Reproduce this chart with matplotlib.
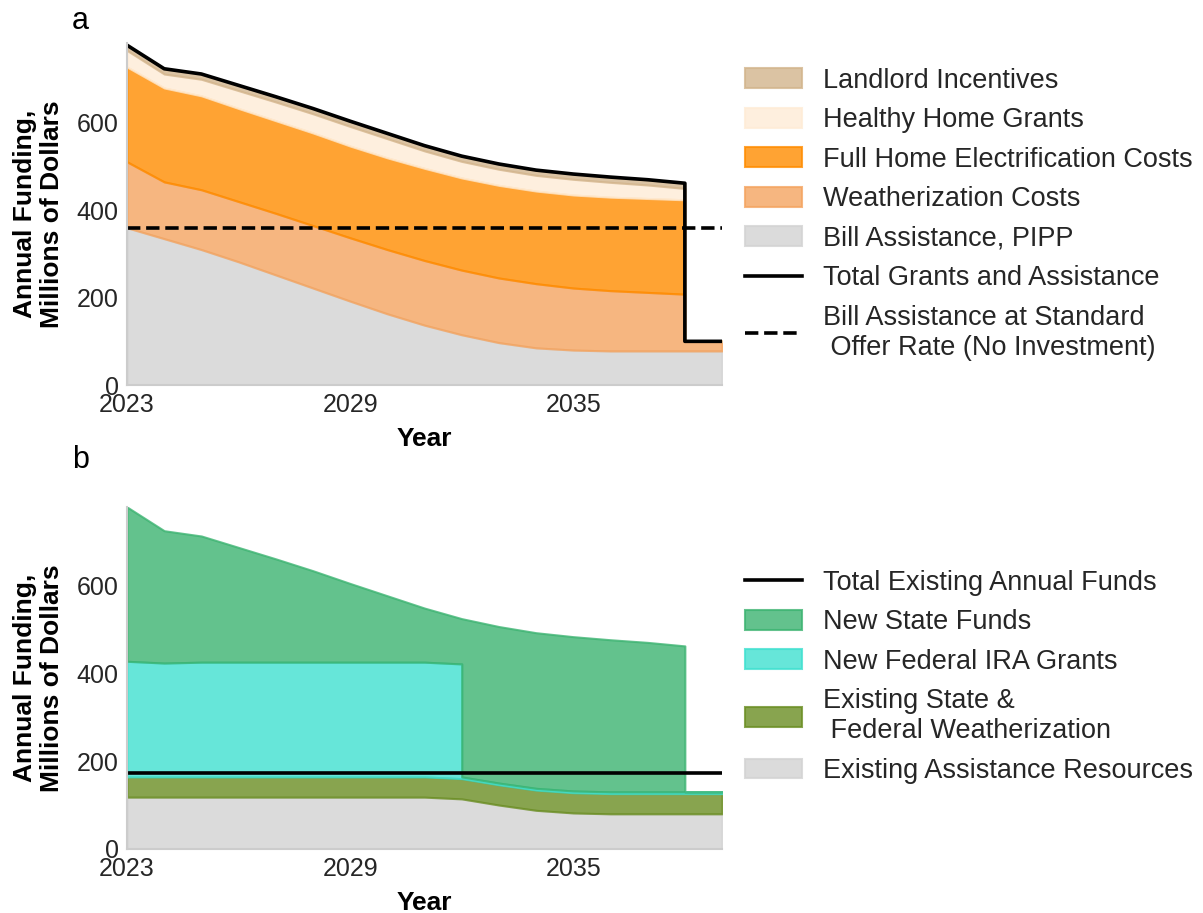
import numpy as np
import matplotlib.pyplot as plt
from matplotlib.patches import Patch
from matplotlib.lines import Line2D

plt.rcParams['font.family'] = ['Liberation Sans', 'DejaVu Sans']
plt.rcParams['text.color'] = '#262626'
plt.rcParams['xtick.color'] = '#262626'
plt.rcParams['ytick.color'] = '#262626'

# panel a: 2038 appears twice because the programme ends there (vertical drop)
years_a = [2023, 2024, 2025, 2026, 2027, 2028, 2029, 2030, 2031, 2032,
           2033, 2034, 2035, 2036, 2037, 2038, 2038, 2039]
bill_pipp = [360, 335, 310, 282, 252, 222, 192, 163, 137, 115, 97, 85, 80, 78, 78, 78, 78, 78]
weatherization = [151, 130, 137, 138, 141, 143, 145, 147, 148, 148, 148, 147, 142, 138, 134, 130, 22, 22]
electrification = [217, 215, 215, 213, 212, 212, 210, 210, 211, 211, 212, 212, 213, 214, 215, 216, 0, 0]
healthy_home = [38, 32, 38, 41, 43, 44, 45, 44, 40, 38, 37, 36, 36, 34, 31, 26, 0, 0]
landlord = [12, 12, 12, 12, 12, 12, 12, 12, 12, 12, 12, 12, 12, 12, 12, 12, 0, 0]
total_grants = [778, 724, 712, 686, 660, 633, 604, 576, 548, 524, 506, 492, 483, 476, 470, 462, 100, 100]
standard_offer = 360

# panel b: IRA grants end in 2032, new state funds in 2038
years_b = [2023, 2024, 2025, 2026, 2027, 2028, 2029, 2030, 2031, 2032, 2032,
           2033, 2034, 2035, 2036, 2037, 2038, 2038, 2039]
existing_assist = [118, 118, 118, 118, 118, 118, 118, 118, 118, 114, 114, 100, 88, 82, 80, 80, 80, 80, 80]
existing_weath = [46, 46, 46, 46, 46, 46, 46, 46, 46, 46, 46, 46, 46, 46, 46, 46, 46, 46, 46]
federal_ira = [263, 259, 261, 261, 261, 261, 261, 261, 261, 261, 4, 4, 4, 4, 4, 4, 4, 4, 4]
state_funds = [351, 301, 287, 261, 235, 208, 179, 151, 123, 103, 360, 356, 354, 351, 346, 340, 332, 0, 0]
existing_total = 172

xticks = [2023, 2029, 2035]
yticks = [0, 200, 400, 600]


def stack(ax, x, series, colors):
    base = np.zeros(len(x))
    for vals, c in zip(series, colors):
        top = base + np.array(vals)
        ax.fill_between(x, base, top, facecolor=c, edgecolor=c, alpha=0.8, linewidth=1.5)
        base = top


def style(ax, ymax):
    ax.set_xlim(2023, 2039)
    ax.set_ylim(0, ymax)
    ax.set_xticks(xticks)
    ax.set_yticks(yticks)
    ax.tick_params(length=0, labelsize=18)
    ax.tick_params(axis='x', pad=6)
    ax.tick_params(axis='y', pad=6)
    for s in ['top', 'right']:
        ax.spines[s].set_visible(False)
    for s in ['left', 'bottom']:
        ax.spines[s].set_color('#cccccc')
        ax.spines[s].set_linewidth(1.5)
    ax.set_xlabel('Year', fontsize=19, fontweight='bold', labelpad=7)
    ax.set_ylabel('Annual Funding,\nMillions of Dollars', fontsize=19, fontweight='bold',
                  labelpad=9, linespacing=1.15)


fig = plt.figure(figsize=(12.03, 9.13), dpi=100)
ax_a = fig.add_axes([0.1056, 0.5783, 0.4946, 0.3746])
ax_b = fig.add_axes([0.1056, 0.0701, 0.4946, 0.3746])

healthy_col = '#feecd6'
cols_a = ['lightgray', 'sandybrown', 'darkorange', healthy_col, 'tan']
stack(ax_a, years_a, [bill_pipp, weatherization, electrification, healthy_home, landlord], cols_a)
ax_a.plot(years_a, total_grants, color='black', lw=2.6)
ax_a.axhline(standard_offer, color='black', lw=2.6, ls='--')
style(ax_a, 783)

cols_b = ['lightgray', 'olivedrab', 'turquoise', 'mediumseagreen']
stack(ax_b, years_b, [existing_assist, existing_weath, federal_ira, state_funds], cols_b)
ax_b.axhline(existing_total, color='black', lw=2.6)
style(ax_b, 778)

# legends
def patch(c, label):
    return Patch(facecolor=c, edgecolor=c, alpha=0.8, linewidth=1.5, label=label)

handles_a = [patch('tan', 'Landlord Incentives'),
             patch(healthy_col, 'Healthy Home Grants'),
             patch('darkorange', 'Full Home Electrification Costs'),
             patch('sandybrown', 'Weatherization Costs'),
             patch('lightgray', 'Bill Assistance, PIPP'),
             Line2D([], [], color='black', lw=2.6, label='Total Grants and Assistance'),
             Line2D([], [], color='black', lw=2.6, ls='--',
                    label='Bill Assistance at Standard\n Offer Rate (No Investment)')]
fig.legend(handles=handles_a, loc='upper left', bbox_to_anchor=(0.619, 0.926),
           frameon=False, fontsize=19.5, borderpad=0, borderaxespad=0,
           handlelength=2.1, handleheight=0.75, handletextpad=0.8, labelspacing=0.5)

handles_b = [Line2D([], [], color='black', lw=2.6, label='Total Existing Annual Funds'),
             patch('mediumseagreen', 'New State Funds'),
             patch('turquoise', 'New Federal IRA Grants'),
             patch('olivedrab', 'Existing State &\n Federal Weatherization'),
             patch('lightgray', 'Existing Assistance Resources')]
fig.legend(handles=handles_b, loc='upper left', bbox_to_anchor=(0.619, 0.376),
           frameon=False, fontsize=19.5, borderpad=0, borderaxespad=0,
           handlelength=2.1, handleheight=0.75, handletextpad=0.8, labelspacing=0.5)

fig.text(0.067, 0.977, 'a', fontsize=22, ha='center', va='center', color='black')
fig.text(0.067, 0.496, 'b', fontsize=22, ha='center', va='center', color='black')

fig.savefig('out.png', dpi=100)
